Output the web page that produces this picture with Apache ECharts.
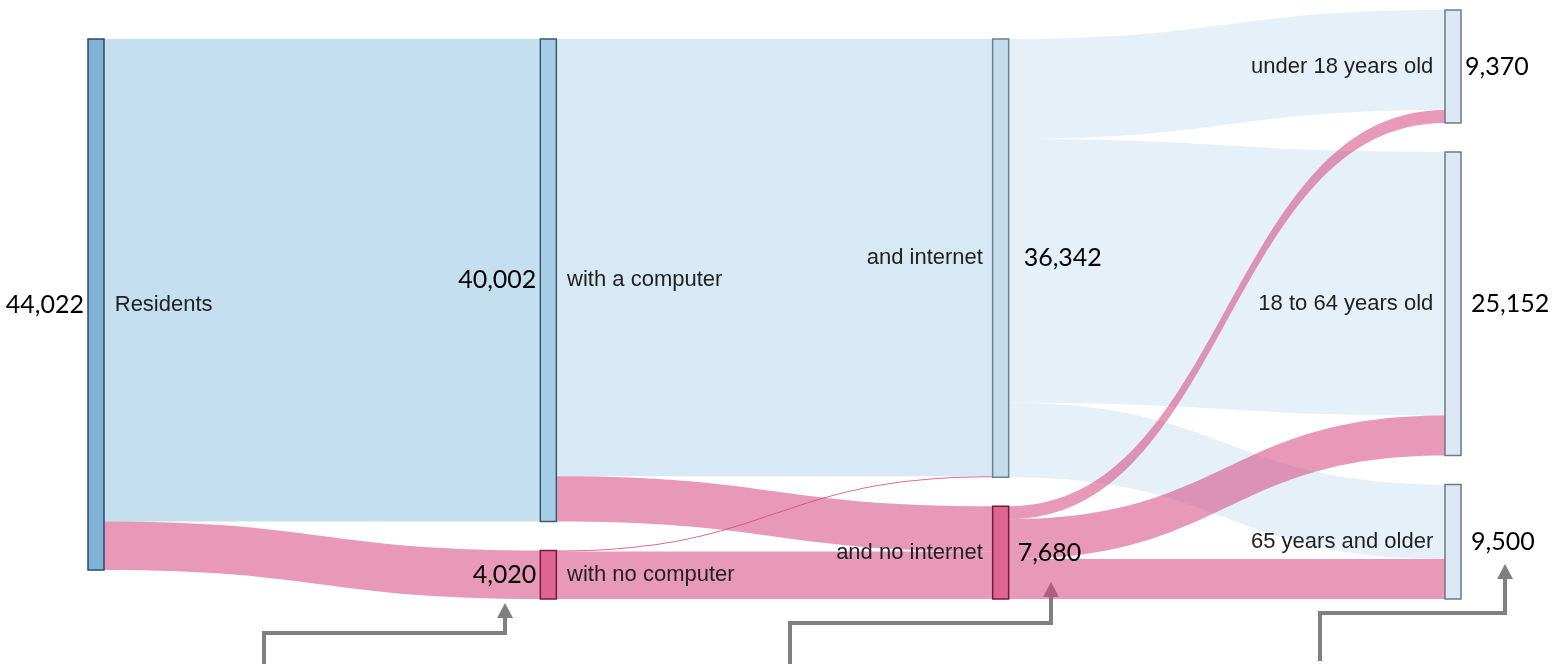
<!DOCTYPE html>
<html>
<head>
<meta charset="utf-8">
<script src="https://cdn.jsdelivr.net/npm/echarts@6/dist/echarts.min.js"></script>
<style>
  html, body { margin: 0; padding: 0; background: #fff; }
  #chart { width: 1559px; height: 664px; }
</style>
</head>
<body>
<div id="chart"></div>
<script>
// nodes, in column order
const nodeNames = [
  "Residents", "with a computer", "with no computer",
  "and internet", "and no internet",
  "under 18 years old", "18 to 64 years old", "65 years and older"
];
const nodeTotals = [44022, 40002, 4020, 36342, 7680, 9370, 25152, 9500];
const nodeColors = ["#80b2d6", "#a6cee6", "#dc6690", "#c5dcec", "#dc6690", "#dce8f4", "#dce8f4", "#dce8f4"];
const nodeBorders = ["#2c4a6a", "#3d5a70", "#7a1a3a", "#6c7f8f", "#7a1a3a", "#6c7a88", "#6c7a88", "#6c7a88"];
const nodeColumn = [0, 1, 1, 2, 2, 3, 3, 3];

// flows (values estimated from band widths)
const linkSource = [0, 0, 1, 2, 3, 3, 3, 1, 2, 4, 4, 4];
const linkTarget = [1, 2, 3, 3, 5, 6, 7, 4, 4, 5, 6, 7];
const linkValue = [40002, 4020, 36252, 90, 8300, 21852, 6190, 3750, 3930, 1070, 3300, 3310];
const linkKind = ["b0", "p", "b1", "thin", "b2", "b2", "b2", "p", "p", "p", "p", "p"];

const linkStyles = {
  b0: { color: "#c3dff0", opacity: 1 },
  b1: { color: "#d6e9f4", opacity: 1 },
  b2: { color: "#e5f0f9", opacity: 1 },
  p: { color: "#d6467c", opacity: 0.55 },
  thin: { color: "#d6467c", opacity: 0.8 },
};

const valueGap = [4, 4, 4, 15, 9, 4, 10, 10];
const nameGap = [10, 10, 10, 9, 9, 11, 11, 11];

const fmt = (v) => v.toLocaleString("en-US");

const layout = {
  left: 88, right: 98, top: 10, bottom: 65,
  nodeWidth: 16, nodeGap: 29, draggable: false,
  layoutIterations: 0,
  emphasis: { disabled: true },
};

// empty spacer nodes so the first three columns start one gap lower,
// like the original (last column fills the full height)
const spacerColumns = [0, 1, 2];

function buildNodes(kind) {
  const spacers = spacerColumns.map((c) => ({
    name: "spacer" + c, depth: c, value: 0,
    itemStyle: { color: "rgba(0,0,0,0)", borderWidth: 0 },
    label: { show: false },
  }));
  const nodes = nodeNames.map((name, i) => {
    const leftCols = nodeColumn[i] < 2;
    const item = { name, depth: nodeColumn[i] };
    if (kind === "names") {
      item.itemStyle = { color: nodeColors[i], borderColor: nodeBorders[i], borderWidth: 1.5 };
      item.label = {
        position: leftCols ? "right" : "left", distance: nameGap[i],
        formatter: name,
        color: "#222", fontFamily: "Liberation Sans", fontSize: 22,
      };
    } else {
      item.itemStyle = { color: "rgba(0,0,0,0)", borderWidth: 0 };
      item.label = {
        position: leftCols ? "left" : "right", distance: valueGap[i],
        formatter: fmt(nodeTotals[i]),
        color: "#000", fontFamily: "Lato", fontSize: 25,
      };
    }
    return item;
  });
  return spacers.concat(nodes);
}

function buildLinks(visible) {
  return linkSource.map((s, i) => ({
    source: nodeNames[s],
    target: nodeNames[linkTarget[i]],
    value: linkValue[i],
    lineStyle: visible
      ? { color: linkStyles[linkKind[i]].color, opacity: linkStyles[linkKind[i]].opacity, curveness: 0.5 }
      : { opacity: 0 },
  }));
}

// arrows below the chart (annotation pointers)
function arrow(x0, yBottom, yMid, x1, yTip) {
  return [
    {
      type: "polyline",
      shape: { points: [[x0, yBottom], [x0, yMid], [x1, yMid], [x1, yTip + 14]] },
      style: { stroke: "#808080", lineWidth: 4, fill: null },
    },
    {
      type: "polygon",
      shape: { points: [[x1 - 8, yTip + 15], [x1 + 8, yTip + 15], [x1, yTip]] },
      style: { fill: "#808080" },
    },
  ];
}

const chart = echarts.init(document.getElementById("chart"));
chart.setOption({
  animation: false,
  series: [
    Object.assign({ type: "sankey", data: buildNodes("names"), links: buildLinks(true) }, layout),
    Object.assign({ type: "sankey", silent: true, z: 3, data: buildNodes("values"), links: buildLinks(false) }, layout),
  ],
  graphic: [
    ...arrow(264, 664, 633, 505, 603),
    ...arrow(790, 664, 623, 1051, 582),
    ...arrow(1320, 661, 613, 1505, 564),
  ],
});
window.addEventListener("resize", () => chart.resize());
</script>
</body>
</html>
